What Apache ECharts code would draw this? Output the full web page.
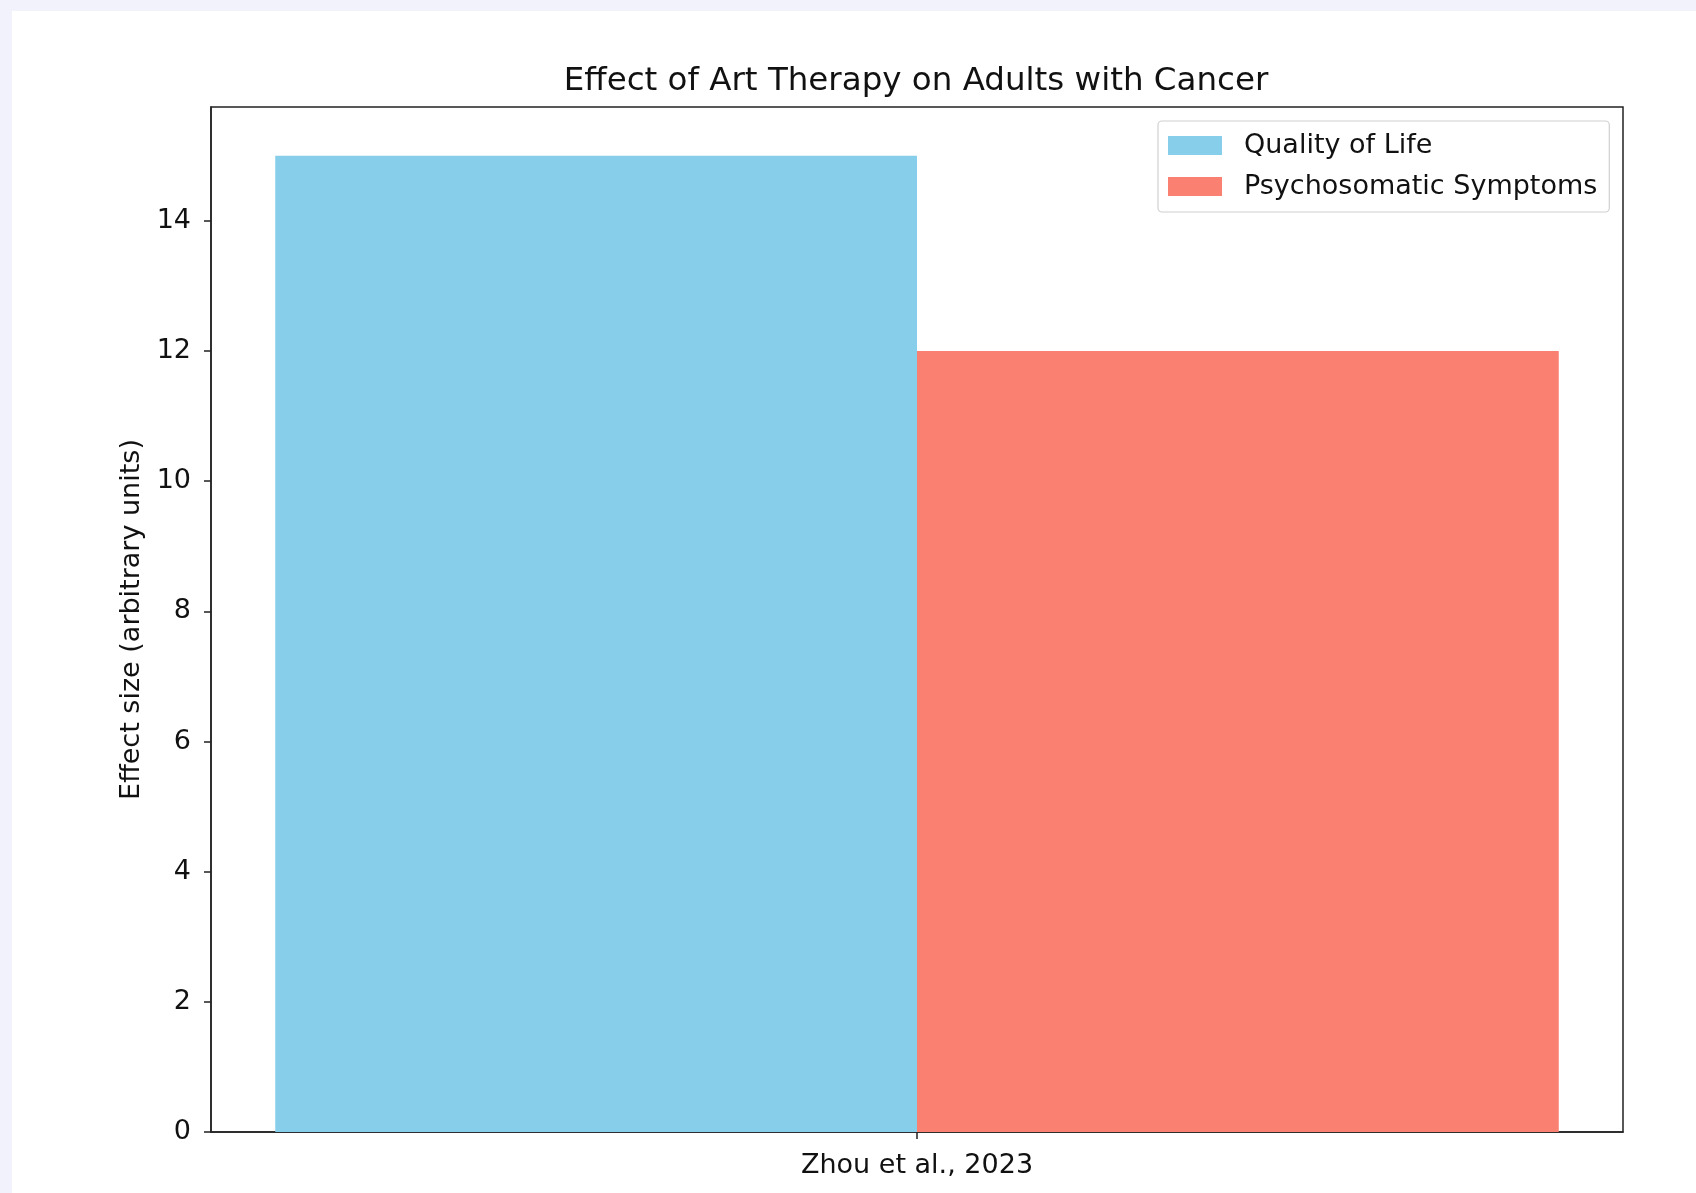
<!DOCTYPE html>
<html>
<head>
<meta charset="utf-8">
<script src="https://cdn.jsdelivr.net/npm/echarts@6/dist/echarts.min.js"></script>
<style>
  html, body { margin: 0; padding: 0; background: #f2f2fd; width: 1696px; height: 1193px; overflow: hidden; }
  #card { position: absolute; left: 12px; top: 11px; right: 0; bottom: 0; background: #ffffff; }
  #chart { position: absolute; left: 0; top: 0; width: 1696px; height: 1193px; }
</style>
</head>
<body>
<div id="card"></div>
<div id="chart"></div>
<script>
const categories = ["Zhou et al., 2023"];
const seriesNames = ["Quality of Life", "Psychosomatic Symptoms"];
const qualityOfLife = [15];
const psychosomaticSymptoms = [12];
const yTicks = [0, 2, 4, 6, 8, 10, 12, 14];

const FONT = "DejaVu Sans";
const chart = echarts.init(document.getElementById('chart'), null, { renderer: 'canvas' });
chart.setOption({
  backgroundColor: 'transparent',
  animation: false,
  title: {
    text: "Effect of Art Therapy on Adults with Cancer",
    left: 911, top: 77, textAlign: 'center', textVerticalAlign: 'middle',
    textStyle: { fontFamily: FONT, fontSize: 32.5, fontWeight: 'normal', color: '#111' }
  },
  legend: {
    data: seriesNames,
    orient: 'vertical',
    left: 1158, top: 121,
    padding: [11, 12, 12, 10],
    itemWidth: 54, itemHeight: 19, itemGap: 14,
    icon: 'rect',
    borderColor: '#d0d0d0', borderWidth: 1.2, borderRadius: 4,
    backgroundColor: 'rgba(255,255,255,0.8)',
    textStyle: { fontFamily: FONT, fontSize: 27, color: '#111', padding: [0, 0, 0, 17] }
  },
  grid: {
    left: 211, right: 73, top: 107, bottom: 61,
    show: true, borderColor: '#222', borderWidth: 1.5, backgroundColor: 'transparent'
  },
  xAxis: {
    type: 'category',
    data: categories,
    axisLine: { show: true, lineStyle: { color: '#222', width: 1.5 } },
    axisTick: { show: true, alignWithLabel: true, length: 7, lineStyle: { color: '#222', width: 1.5 } },
    axisLabel: { fontFamily: FONT, fontSize: 27, color: '#111', margin: 20 },
    splitLine: { show: false }
  },
  yAxis: {
    type: 'value',
    min: 0, max: 15.75, interval: 2,
    name: "Effect size (arbitrary units)",
    nameLocation: 'middle', nameGap: 65,
    nameTextStyle: { fontFamily: FONT, fontSize: 27, color: '#111' },
    axisLine: { show: true, lineStyle: { color: '#222', width: 1.5 } },
    axisTick: { show: true, length: 7, lineStyle: { color: '#222', width: 1.5 } },
    axisLabel: {
      fontFamily: FONT, fontSize: 27, color: '#111', margin: 20, showMaxLabel: false,
      formatter: v => yTicks.includes(v) ? String(v) : ''
    },
    splitLine: { show: false }
  },
  series: [
    { name: seriesNames[0], type: 'bar', data: qualityOfLife, barWidth: '45.45%', barGap: '0%',
      itemStyle: { color: '#87CEEB' } },
    { name: seriesNames[1], type: 'bar', data: psychosomaticSymptoms, barWidth: '45.45%', barGap: '0%',
      itemStyle: { color: '#FA8072' } }
  ]
});
</script>
</body>
</html>
